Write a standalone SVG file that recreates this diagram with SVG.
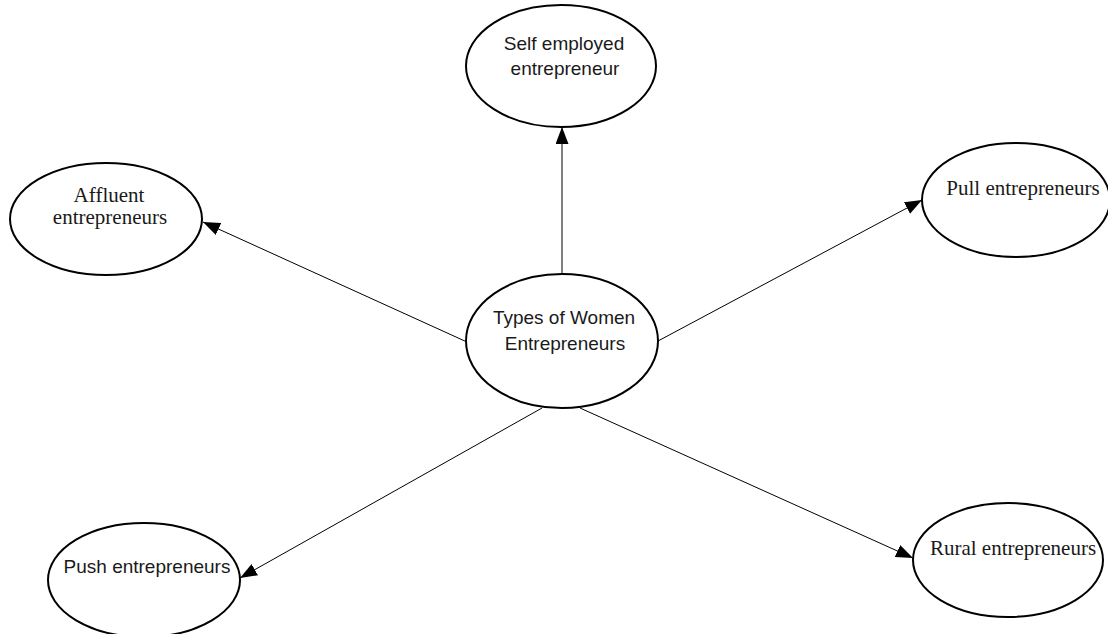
<svg xmlns="http://www.w3.org/2000/svg" width="1108" height="634" viewBox="0 0 1108 634">
  <style>
    .node { fill: #ffffff; stroke: #000000; stroke-width: 2; }
    .edge { stroke: #000000; stroke-width: 1; fill: none; marker-end: url(#arrow); }
    .sans { font-family: "Liberation Sans", Arial, sans-serif; font-size: 19px; fill: #1a1a1a; text-anchor: middle; }
    .serif { font-family: "Liberation Serif", "Times New Roman", serif; font-size: 21px; fill: #1a1a1a; text-anchor: middle; }
  </style>
  <defs>
    <marker id="arrow" markerUnits="userSpaceOnUse" markerWidth="18" markerHeight="14" refX="17" refY="6.5" orient="auto">
      <path d="M0,0 L17,6.5 L0,13 Z" fill="#000000"/>
    </marker>
  </defs>
  <rect width="1108" height="634" fill="#ffffff"/>

  <g id="connectors">
    <line class="edge" x1="562" y1="275" x2="562" y2="127"/>
    <line class="edge" x1="467" y1="342" x2="203" y2="222"/>
    <line class="edge" x1="658" y1="341" x2="922" y2="200"/>
    <line class="edge" x1="542" y1="408" x2="240" y2="578"/>
    <line class="edge" x1="580" y1="408" x2="913" y2="558"/>
  </g>

  <g id="types-of-women">
    <ellipse class="node" cx="562" cy="341" rx="96" ry="67"/>
    <text class="sans" x="564" y="324">Types of Women</text>
    <text class="sans" x="565" y="350">Entrepreneurs</text>
  </g>

  <g id="self-employed">
    <ellipse class="node" cx="561" cy="66" rx="95" ry="61"/>
    <text class="sans" x="564" y="50">Self employed</text>
    <text class="sans" x="565" y="75">entrepreneur</text>
  </g>

  <g id="affluent">
    <ellipse class="node" cx="106" cy="219" rx="96" ry="56"/>
    <text class="serif" x="109" y="202">Affluent</text>
    <text class="serif" x="110" y="224">entrepreneurs</text>
  </g>

  <g id="pull">
    <ellipse class="node" cx="1016" cy="200" rx="94" ry="57"/>
    <text class="serif" x="1023" y="195">Pull entrepreneurs</text>
  </g>

  <g id="push">
    <ellipse class="node" cx="144" cy="580" rx="96" ry="57"/>
    <text class="sans" x="147" y="573">Push entrepreneurs</text>
  </g>

  <g id="rural">
    <ellipse class="node" cx="1008" cy="560" rx="95" ry="57"/>
    <text class="serif" x="1013" y="555">Rural entrepreneurs</text>
  </g>
</svg>
